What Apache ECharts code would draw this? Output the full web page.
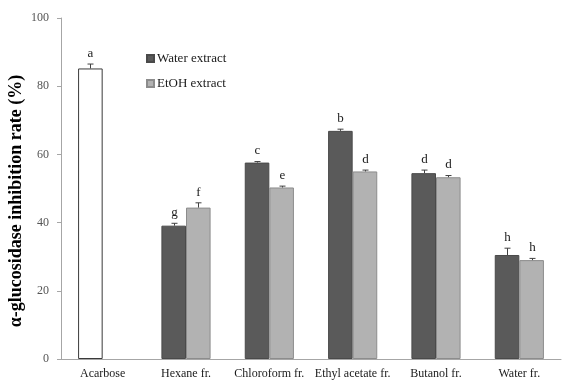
<!DOCTYPE html>
<html>
<head>
<meta charset="utf-8">
<script src="https://cdn.jsdelivr.net/npm/echarts@6/dist/echarts.min.js"></script>
<style>
  html, body { margin: 0; padding: 0; background: #fff; }
  #chart { width: 564px; height: 382px; }
</style>
</head>
<body>
<div id="chart"></div>
<script>
// Fractions tested for α-glucosidase inhibition
const categories = ['Acarbose', 'Hexane fr.', 'Chloroform fr.', 'Ethyl acetate fr.', 'Butanol fr.', 'Water fr.'];

// Water extract (Acarbose, the positive control, sits in this slot)
const waterValues = [85.2, 39.1, 57.6, 66.9, 54.5, 30.5];
const waterErrors = [1.3, 0.7, 0.3, 0.5, 0.9, 2.0];
const waterLetters = ['a', 'g', 'c', 'b', 'd', 'h'];

// EtOH extract
const etohValues = [null, 44.4, 50.3, 55.0, 53.3, 29.0];
const etohErrors = [null, 1.4, 0.4, 0.4, 0.5, 0.5];
const etohLetters = ['', 'f', 'e', 'd', 'd', 'h'];

const yTicks = { min: 0, max: 100, interval: 20 };

const SERIF = '"Liberation Serif", "Times New Roman", serif';
const CAT_GAP = 0.41;

const chart = echarts.init(document.getElementById('chart'), null, { renderer: 'canvas' });

// Error bar (upper whisker with cap) plus significance letter
function errorRenderer(side, errors, letters) {
  return function (params, api) {
    const i = api.value(0);
    const v = api.value(1);
    const e = errors[i];
    if (v == null || isNaN(v) || e == null) return null;
    const band = api.size([1, 0])[0];
    const barW = band * (1 - CAT_GAP) / 2;
    const base = api.coord([i, v]);
    const top = api.coord([i, v + e]);
    const x = Math.round(base[0] + side * barW / 2) + 0.5;
    const cap = 3;
    return {
      type: 'group',
      children: [
        { type: 'line', shape: { x1: x, y1: base[1], x2: x, y2: top[1] },
          style: { stroke: '#404040', lineWidth: 1 } },
        { type: 'line', shape: { x1: x - cap, y1: top[1], x2: x + cap, y2: top[1] },
          style: { stroke: '#404040', lineWidth: 1 } },
        { type: 'text', x: x, y: top[1] - 4,
          style: { text: letters[i], font: '13px ' + SERIF, fill: '#1a1a1a',
                   align: 'center', verticalAlign: 'bottom' } }
      ]
    };
  };
}

const waterData = waterValues.map((v, i) => i === 0
  ? { value: v, itemStyle: { color: '#ffffff', borderColor: '#3a3a3a', borderWidth: 1 } }
  : v);

chart.setOption({
  animation: false,
  backgroundColor: '#ffffff',
  grid: { left: 61, right: 3, top: 18, bottom: 23, containLabel: false },
  legend: {
    orient: 'vertical',
    left: 141, top: 47,
    itemWidth: 7, itemHeight: 7, itemGap: 12,
    icon: 'rect',
    data: ['Water extract', 'EtOH extract'],
    textStyle: { fontFamily: SERIF, fontSize: 13, color: '#1a1a1a', padding: [0, 0, 0, -2] }
  },
  xAxis: {
    type: 'category',
    data: categories,
    axisLine: { lineStyle: { color: '#a6a6a6', width: 1 } },
    axisTick: { show: false },
    axisLabel: { fontFamily: SERIF, fontSize: 12, color: '#1a1a1a', margin: 9, interval: 0 }
  },
  yAxis: {
    type: 'value',
    min: yTicks.min, max: yTicks.max, interval: yTicks.interval,
    axisLine: { show: true, lineStyle: { color: '#a6a6a6', width: 1 } },
    axisTick: { show: true, length: 4, lineStyle: { color: '#a6a6a6' } },
    splitLine: { show: false },
    axisLabel: { fontFamily: SERIF, fontSize: 12, color: '#555555', margin: 12 }
  },
  graphic: [{
    type: 'text',
    x: 16, y: 201,
    rotation: Math.PI / 2,
    style: {
      text: 'α-glucosidase inhibition rate (%)',
      font: 'bold 18px ' + SERIF,
      fill: '#000000',
      align: 'center', verticalAlign: 'middle'
    }
  }],
  series: [
    {
      name: 'Water extract', type: 'bar',
      data: waterData,
      barGap: '0%', barCategoryGap: (CAT_GAP * 100) + '%',
      itemStyle: { color: '#5a5a5a', borderColor: '#4a4a4a', borderWidth: 1 }
    },
    {
      name: 'EtOH extract', type: 'bar',
      data: etohValues.map(v => v == null ? '-' : v),
      itemStyle: { color: '#b2b2b2', borderColor: '#8c8c8c', borderWidth: 1 }
    },
    {
      type: 'custom', name: 'waterErr', silent: true, z: 5,
      renderItem: errorRenderer(-1, waterErrors, waterLetters),
      data: waterValues.map((v, i) => [i, v])
    },
    {
      type: 'custom', name: 'etohErr', silent: true, z: 5,
      renderItem: errorRenderer(1, etohErrors, etohLetters),
      data: etohValues.map((v, i) => [i, v == null ? NaN : v])
    }
  ]
});
</script>
</body>
</html>
